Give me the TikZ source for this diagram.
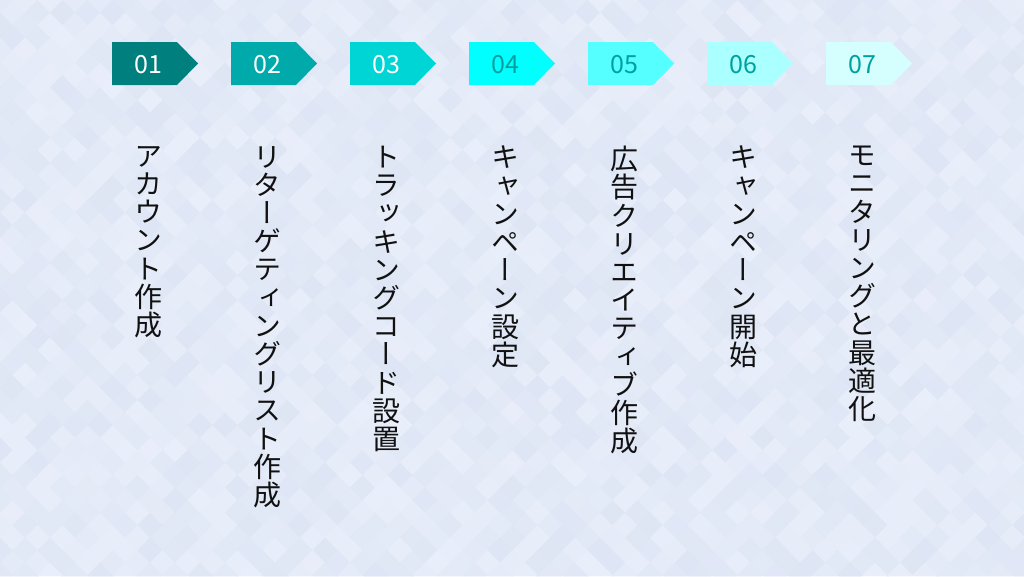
\documentclass[tikz,border=0pt]{standalone}
\usepackage{fontspec}
\newfontfamily\cjk{Noto Sans CJK JP}
\newfontfamily\cjkv[RawFeature=+vert]{Noto Sans CJK JP}
\definecolor{bgbase}{HTML}{E4EBF8}
\definecolor{bglight}{HTML}{F0F4FD}
\definecolor{bgdark}{HTML}{D5DDEF}
\definecolor{txt}{HTML}{111111}
\definecolor{numdark}{HTML}{00A0A0}
\definecolor{c1}{HTML}{007F7F}
\definecolor{c2}{HTML}{00AAAA}
\definecolor{c3}{HTML}{00D5D5}
\definecolor{c4}{HTML}{00FFFF}
\definecolor{c5}{HTML}{55FFFF}
\definecolor{c6}{HTML}{AAFFFF}
\definecolor{c7}{HTML}{D5FFFF}
\makeatletter
\newcommand\vcol[1]{\vtop{\baselineskip=28.2pt\lineskiplimit=-100pt\lineskip=0pt\@tfor\vch:=#1\do{\hbox to 28pt{\hss\vch\hss}}}}
\makeatother
\tikzset{
  stepnum/.style={font=\cjk\fontsize{25}{25}\selectfont, inner sep=0pt},
  steptext/.style={anchor=north, inner sep=0pt, text=txt, font=\cjkv\fontsize{28}{28}\selectfont},
}
\begin{document}
\begin{tikzpicture}[x=1pt,y=-1pt]
\useasboundingbox (0,0) rectangle (1024,576);
\fill[bgbase] (0,0) rectangle (1024,576);
\pgfmathsetseed{11}
\begin{scope}
\clip (0,0) rectangle (1024,576);
\foreach \i in {0,...,41}{
  \foreach \j in {0,...,23}{
    \pgfmathtruncatemacro\pa{random(0,100)}
    \pgfmathtruncatemacro\pb{random(0,100)}
    \fill[bglight!\pa!bgdark, opacity=0.4] (\i*25,\j*25-12.5) -- (\i*25+12.5,\j*25) -- (\i*25,\j*25+12.5) -- (\i*25-12.5,\j*25) -- cycle;
    \fill[bglight!\pb!bgdark, opacity=0.4] (\i*25+12.5,\j*25) -- (\i*25+25,\j*25+12.5) -- (\i*25+12.5,\j*25+25) -- (\i*25,\j*25+12.5) -- cycle;
  }
}
\end{scope}
% step arrows
\foreach \k/\col/\ncol [count=\n from 0] in {01/c1/white,02/c2/white,03/c3/white,04/c4/numdark,05/c5/numdark,06/c6/numdark,07/c7/numdark}{
  \pgfmathsetmacro\xx{112+119*\n}
  \fill[\col] (\xx,42) -- (\xx+65,42) -- (\xx+86,63.5) -- (\xx+65,85) -- (\xx,85) -- cycle;
  \node[stepnum, text=\ncol] (n\k) at (\xx+36,65) {\k};
}
% vertical labels
\node[steptext] (t1) at (148,146) {\vcol{アカウント作成}};
\node[steptext] (t2) at (267,146) {\vcol{リターゲティングリスト作成}};
\node[steptext] (t3) at (386,146) {\vcol{トラッキングコード設置}};
\node[steptext] (t4) at (505,146) {\vcol{キャンペーン設定}};
\node[steptext] (t5) at (624,146) {\vcol{広告クリエイティブ作成}};
\node[steptext] (t6) at (743,146) {\vcol{キャンペーン開始}};
\node[steptext] (t7) at (862,146) {\vcol{モニタリングと最適化}};
\end{tikzpicture}
\end{document}
